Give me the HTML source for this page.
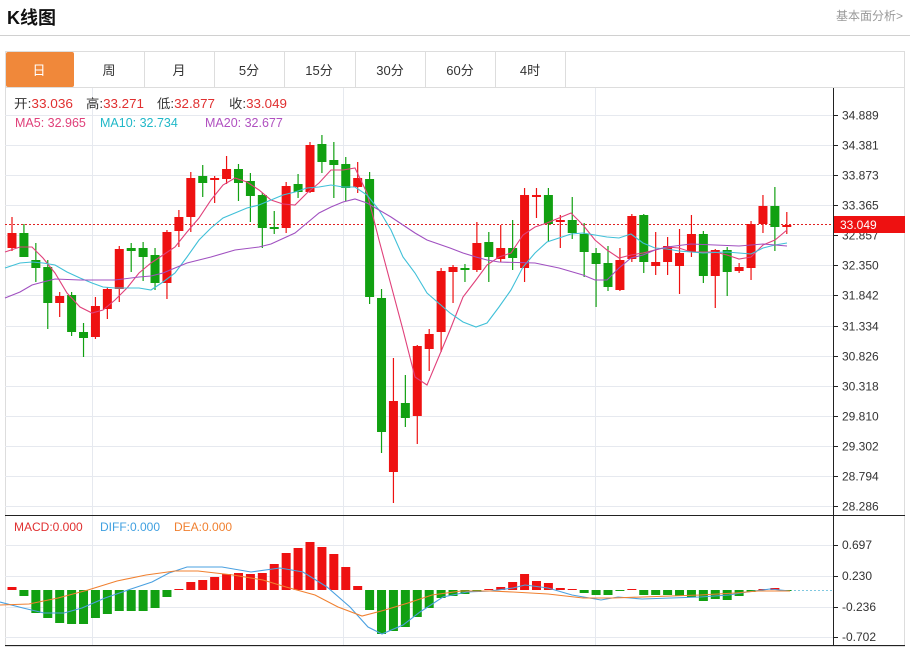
<!DOCTYPE html>
<html><head><meta charset="utf-8">
<style>
body{margin:0;background:#fff;width:910px;height:648px;overflow:hidden;font-family:"Liberation Sans","Noto Sans CJK SC",sans-serif;}
.t{position:absolute;white-space:nowrap;}
</style></head>
<body>
<div class="t" style="left:7px;top:4px;font-size:18px;font-weight:bold;color:#111;">K线图</div>
<div class="t" style="left:836px;top:7px;font-size:12px;color:#999;">基本面分析&gt;</div>
<div style="position:absolute;left:0;top:35px;width:910px;height:1px;background:#d0d0d0"></div>
<svg id="s" width="910" height="648" style="position:absolute;left:0;top:0" xmlns="http://www.w3.org/2000/svg" font-family="Liberation Sans, Noto Sans CJK SC, sans-serif">
<rect x="5.5" y="51.5" width="899" height="595" fill="none" stroke="#ddd"/>
<line x1="5" y1="87.5" x2="905" y2="87.5" stroke="#ddd"/>
<rect x="6" y="52" width="68" height="35" fill="#f0883a" rx="2"/>
<g stroke="#ddd">
<line x1="144.5" y1="52" x2="144.5" y2="87"/><line x1="214.5" y1="52" x2="214.5" y2="87"/>
<line x1="284.5" y1="52" x2="284.5" y2="87"/><line x1="355.5" y1="52" x2="355.5" y2="87"/>
<line x1="425.5" y1="52" x2="425.5" y2="87"/><line x1="495.5" y1="52" x2="495.5" y2="87"/>
<line x1="565.5" y1="52" x2="565.5" y2="87"/>
</g>
<g font-size="13" fill="#333" text-anchor="middle">
<text x="39" y="75" fill="#fff">日</text><text x="109" y="75">周</text><text x="179" y="75">月</text>
<text x="249" y="75">5分</text><text x="319" y="75">15分</text><text x="390" y="75">30分</text>
<text x="460" y="75">60分</text><text x="530" y="75">4时</text>
</g>
<g id="grid" stroke="#e6e9ef" stroke-width="1"></g>
<line x1="833.5" y1="88" x2="833.5" y2="646" stroke="#222"/>
<line x1="5" y1="515.5" x2="905" y2="515.5" stroke="#222"/>
<line x1="5" y1="645.5" x2="905" y2="645.5" stroke="#222"/>
<g id="ax" font-size="12" fill="#333"></g>
<line x1="5" y1="224.5" x2="833" y2="224.5" stroke="#e02020" stroke-dasharray="2,2"/>
<g id="c"></g>
<g id="ma" fill="none" stroke-width="1.1"></g>
<rect x="834" y="216" width="71" height="17" fill="#ee1111"/>
<text x="840" y="229" font-size="12" fill="#fff">33.049</text>
<line x1="790" y1="590.5" x2="833" y2="590.5" stroke="#80c8e0" stroke-dasharray="2,2"/>
<g id="m"></g>
<g font-size="12.5">
<text x="14" y="108" fill="#333" textLength="59" lengthAdjust="spacingAndGlyphs">开:<tspan fill="#e03030">33.036</tspan></text>
<text x="86" y="108" fill="#333" textLength="58" lengthAdjust="spacingAndGlyphs">高:<tspan fill="#e03030">33.271</tspan></text>
<text x="157" y="108" fill="#333" textLength="58" lengthAdjust="spacingAndGlyphs">低:<tspan fill="#e03030">32.877</tspan></text>
<text x="229" y="108" fill="#333" textLength="58" lengthAdjust="spacingAndGlyphs">收:<tspan fill="#e03030">33.049</tspan></text>
<text x="15" y="127" fill="#e0407a">MA5: 32.965</text>
<text x="100" y="127" fill="#20b8c8">MA10: 32.734</text>
<text x="205" y="127" fill="#b050c0">MA20: 32.677</text>
<text x="14" y="531" fill="#e03030" font-size="12">MACD:0.000</text>
<text x="100" y="531" fill="#40a0e0" font-size="12">DIFF:0.000</text>
<text x="174" y="531" fill="#f08030" font-size="12">DEA:0.000</text>
</g>
</svg>
<script>
var NS="http://www.w3.org/2000/svg";
function el(p,t,a){var e=document.createElementNS(NS,t);for(var k in a)e.setAttribute(k,a[k]);document.getElementById(p).appendChild(e);return e;}
var labs=["34.889","34.381","33.873","33.365","32.857","32.350","31.842","31.334","30.826","30.318","29.810","29.302","28.794","28.286"];
for(var i=0;i<14;i++){var y=Math.round(115+i*30.08)+0.5;el("grid","line",{x1:5,y1:y,x2:833,y2:y});
el("ax","line",{x1:833,y1:y,x2:838,y2:y,stroke:"#222"});var t=el("ax","text",{x:842,y:y+4});t.textContent=labs[i];}
[92,343,595].forEach(function(x){el("grid","line",{x1:x+.5,y1:88,x2:x+.5,y2:645});});
var ml=[["0.697",545],["0.230",576],["-0.236",607],["-0.702",637]];
ml.forEach(function(m){el("grid","line",{x1:5,y1:m[1]+.5,x2:833,y2:m[1]+.5});el("ax","line",{x1:833,y1:m[1]+.5,x2:838,y2:m[1]+.5,stroke:"#222"});var t=el("ax","text",{x:842,y:m[1]+4});t.textContent=m[0];});
var C=[[233,248,217,251,'r'],[233,257,224,257,'g'],[260,268,243,282,'g'],[267,303,260,329,'g'],[296,303,292,317,'r'],[295,332,292,336,'g'],[332,338,323,357,'g'],[306,337,297,339,'r'],[289,309,287,319,'r'],[249,289,246,302,'r'],[248,251,243,272,'g'],[248,257,242,281,'g'],[255,283,248,290,'g'],[232,283,230,299,'r'],[217,231,210,247,'r'],[178,217,172,232,'r'],[176,183,165,197,'g'],[178,180,176,203,'r'],[169,179,156,184,'r'],[169,183,164,201,'g'],[181,196,173,222,'g'],[195,228,193,248,'g'],[227,229,211,234,'g'],[186,228,182,233,'r'],[184,192,174,198,'g'],[145,192,142,193,'r'],[144,162,135,173,'g'],[160,165,142,198,'g'],[164,188,157,201,'g'],[178,187,162,193,'r'],[179,297,172,304,'g'],[298,432,289,453,'g'],[401,472,358,503,'r'],[403,418,375,427,'g'],[346,416,345,444,'r'],[334,349,329,371,'r'],[271,332,268,352,'r'],[267,272,265,303,'r'],[268,270,264,282,'g'],[243,270,222,272,'r'],[242,257,232,282,'g'],[248,259,225,262,'r'],[248,258,220,270,'g'],[195,268,188,282,'r'],[195,197,188,218,'r'],[195,224,188,242,'g'],[220,222,215,248,'r'],[220,233,197,239,'g'],[234,252,223,277,'g'],[253,264,248,307,'g'],[263,287,246,291,'g'],[260,290,248,291,'r'],[216,259,214,262,'r'],[215,262,214,273,'g'],[262,266,232,275,'r'],[246,262,237,275,'r'],[253,266,229,294,'r'],[234,252,215,257,'r'],[234,276,231,283,'g'],[250,276,249,308,'r'],[250,272,247,296,'g'],[267,271,263,273,'r'],[224,268,221,280,'r'],[206,224,195,233,'r'],[206,227,187,251,'g'],[225,227,212,234,'r']];
C.forEach(function(c,i){var x=12+i*11.92;var col=c[4]=='r'?"#ee1111":"#11a011";
el("c","line",{x1:x,y1:c[2],x2:x,y2:c[3],stroke:col,"stroke-width":1.2});
el("c","rect",{x:x-4.5,y:c[0],width:9,height:Math.max(2,c[1]-c[0]),fill:col});});
function pl(p,pts,col){el(p,"polyline",{points:pts,stroke:col,fill:"none","stroke-width":1.1});}
pl("ma","5,252 20,247 32,247 43,258 55,273 67,293 80,307 92,313 103,310 115,300 127,288 139,273 151,263 163,255 175,247 187,232 199,218 211,200 223,185 235,178 247,182 259,190 271,200 283,204 295,205 307,193 319,183 331,170 343,170 355,168 367,193 379,240 391,285 403,330 415,377 427,385 450,330 463,297 476,280 487,265 499,257 511,253 523,235 535,227 547,223 559,218 571,213 583,225 595,240 607,250 619,258 631,255 643,253 655,250 667,247 679,248 691,252 703,252 715,252 727,255 739,259 751,257 763,245 775,240 787,230","#e0407a");
pl("ma","5,268 20,263 32,262 43,263 55,265 67,272 80,278 92,283 103,287 115,288 139,288 151,290 163,282 175,273 187,257 199,240 211,228 223,218 235,213 247,208 259,205 271,200 283,195 295,192 307,188 319,187 331,185 343,187 355,187 367,195 379,210 391,230 403,257 415,273 427,293 450,313 463,322 476,327 487,323 499,307 511,290 523,267 535,253 547,242 559,238 571,234 583,233 595,235 607,237 619,238 631,234 643,243 655,248 667,249 679,251 703,253 727,252 739,253 751,254 763,248 775,245 787,243","#40c0d8");
pl("ma","5,298 20,292 32,285 43,282 55,279 80,280 115,280 139,277 151,276 163,273 175,268 187,263 211,257 235,250 259,247 271,244 295,233 307,223 319,213 331,207 343,202 355,199 367,203 379,210 391,217 403,225 415,233 427,240 450,248 463,253 476,257 487,260 499,262 535,263 559,268 583,275 595,280 607,280 619,268 631,258 643,255 655,250 667,247 691,244 715,245 739,246 763,244 787,246","#a050c0");
var M=[587,596,613,618,623,624,624,618,614,611,611,611,608,597,589,582,580,577,574,573,574,573,564,553,548,542,547,554,567,586,610,634,631,627,617,608,598,596,594,592,589,587,582,574,581,583,588,589,593,595,595,591,589,595,595,595,596,597,601,599,600,596,592,589,588,590];
M.forEach(function(v,i){var x=12+i*11.92;var z=590;var col=v<z?"#ee1111":"#11a011";
el("m","rect",{x:x-4.5,y:Math.min(v,z),width:9,height:Math.max(1,Math.abs(v-z)),fill:col});});
pl("m","0,602 23,608 44,613 64,613 82,608 105,598 128,590 152,582 169,573 187,567 222,567 251,572 280,568 303,572 327,587 350,607 368,627 382,634 403,625 420,612 443,597 467,592 490,591 513,588 525,585 548,588 572,595 601,600 618,597 642,599 671,598 700,597 729,595 747,592 770,589 790,591","#4aa0e0");
pl("m","0,605 29,604 58,598 88,590 117,581 146,575 175,571 198,571 233,575 263,580 286,587 315,595 338,607 362,616 385,610 408,603 432,595 461,591 490,591 513,592 548,594 583,598 613,598 642,597 700,595 735,593 758,591 790,591","#f08030");
</script>
</body></html>
